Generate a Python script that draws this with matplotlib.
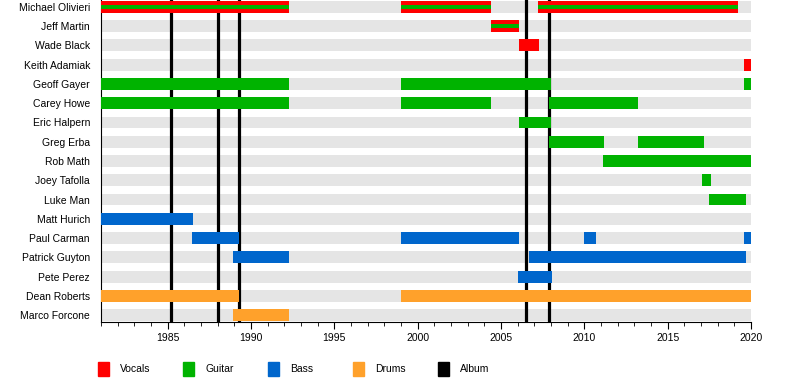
import matplotlib.pyplot as plt
from matplotlib.patches import Rectangle
from matplotlib.ticker import MultipleLocator

plt.rcParams['font.family'] = ['Liberation Sans', 'DejaVu Sans']

members = ['Michael Olivieri', 'Jeff Martin', 'Wade Black', 'Keith Adamiak',
           'Geoff Gayer', 'Carey Howe', 'Eric Halpern', 'Greg Erba', 'Rob Math',
           'Joey Tafolla', 'Luke Man', 'Matt Hurich', 'Paul Carman',
           'Patrick Guyton', 'Pete Perez', 'Dean Roberts', 'Marco Forcone']

vocals = {
    'Michael Olivieri': [(1981.0, 1992.3), (1999.0, 2004.4), (2007.2, 2019.2)],
    'Jeff Martin': [(2004.4, 2006.1)],
    'Wade Black': [(2006.1, 2007.25)],
    'Keith Adamiak': [(2019.6, 2020.0)],
}
guitar = {
    'Michael Olivieri': [(1981.0, 1992.3), (1999.0, 2004.4), (2007.2, 2019.2)],
    'Jeff Martin': [(2004.4, 2006.1)],
    'Geoff Gayer': [(1981.0, 1992.3), (1999.0, 2008.0), (2019.6, 2020.0)],
    'Carey Howe': [(1981.0, 1992.3), (1999.0, 2004.4), (2007.9, 2013.2)],
    'Eric Halpern': [(2006.1, 2008.0)],
    'Greg Erba': [(2007.9, 2011.2), (2013.2, 2017.2)],
    'Rob Math': [(2011.1, 2020.0)],
    'Joey Tafolla': [(2017.05, 2017.6)],
    'Luke Man': [(2017.5, 2019.7)],
}
bass = {
    'Matt Hurich': [(1981.0, 1986.5)],
    'Paul Carman': [(1986.45, 1989.3), (1999.0, 2006.1), (2010.0, 2010.7), (2019.6, 2020.0)],
    'Patrick Guyton': [(1988.9, 1992.3), (2006.7, 2019.7)],
    'Pete Perez': [(2006.0, 2008.05)],
}
drums = {
    'Dean Roberts': [(1981.0, 1989.3), (1999.0, 2020.0)],
    'Marco Forcone': [(1988.9, 1992.3)],
}
albums = [1985.2, 1988.0, 1989.3, 2006.5, 2007.9]

roles = ['Vocals', 'Guitar', 'Bass', 'Drums', 'Album']
colors = {'Vocals': '#ff0000', 'Guitar': '#00b300', 'Bass': '#0066cc',
          'Drums': '#ffa12b', 'Album': '#000000'}

start, end = 1981.0, 2020.0
h = 0.62

fig = plt.figure(figsize=(8, 3.8), dpi=100)
ax = fig.add_axes([0.12625, 0.1526, 0.8125, 0.8474])

for i, name in enumerate(members):
    ax.barh(i, end - start, left=start, height=h, color='#e5e5e5', zorder=1)

# album releases sit behind the member bars
ax.vlines(albums, -0.5, len(members), color='black', lw=2.3, zorder=2)

for role, spans in [('Vocals', vocals), ('Guitar', guitar), ('Bass', bass), ('Drums', drums)]:
    for name, periods in spans.items():
        i = members.index(name)
        bh = h
        if role == 'Guitar' and name in vocals:
            bh = h / 3
        for a, b in periods:
            ax.barh(i, b - a, left=a, height=bh, color=colors[role], zorder=3)

ax.set_xlim(start, end)
ax.set_ylim(16.36, -0.36)
ax.set_yticks(range(len(members)))
ax.set_yticklabels(members, fontsize=7.5)
ax.tick_params(axis='y', length=0, pad=8)
ax.xaxis.set_major_locator(MultipleLocator(5))
ax.xaxis.set_minor_locator(MultipleLocator(1))
ax.tick_params(axis='x', which='major', length=5, labelsize=7.5, pad=3)
ax.tick_params(axis='x', which='minor', length=3)
for s in ['top', 'right']:
    ax.spines[s].set_visible(False)

# legend along the bottom
for k, role in enumerate(roles):
    x0 = 98 / 800 + k * 85 / 800
    fig.patches.append(Rectangle((x0, 4 / 380), 11 / 800, 14 / 380,
                                 transform=fig.transFigure, color=colors[role]))
    fig.text(x0 + 22 / 800, 11 / 380, role, fontsize=7.5, va='center')

fig.savefig('out.png')
